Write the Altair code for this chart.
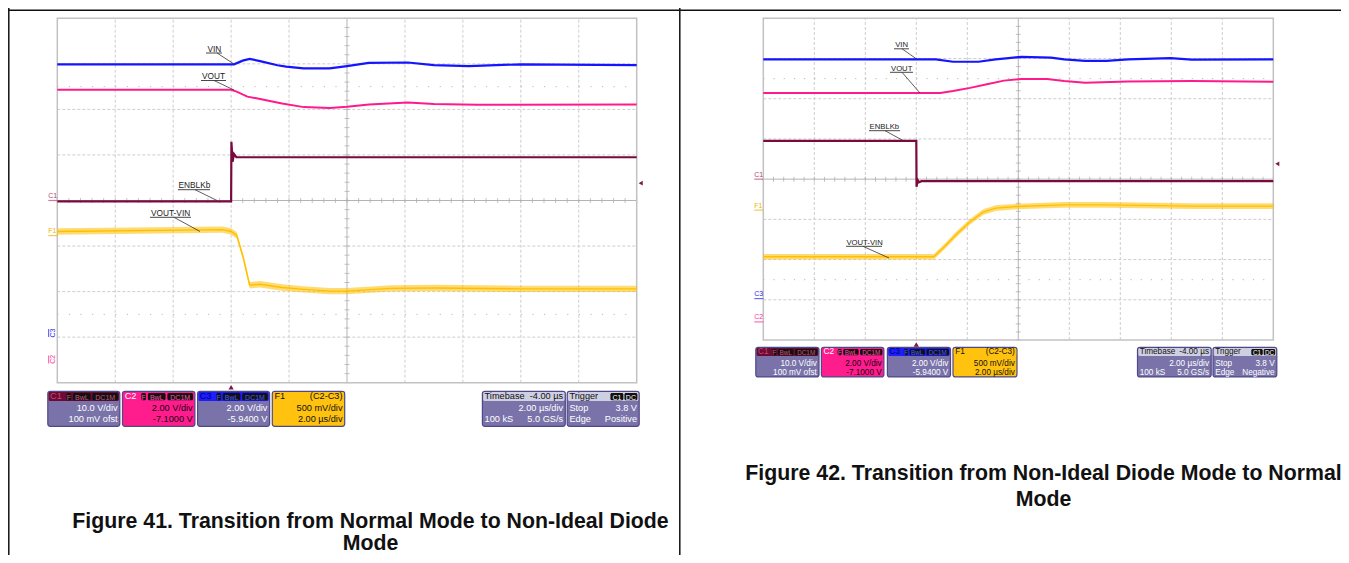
import altair as alt
import pandas as pd

# ---------------- trace data: time in µs (2 µs/div), level in screen divisions ----------------
# Figure 41 (left scope)
L_VIN_T  = [-6, 0.1, 0.4, 0.64, 1.0, 1.6, 1.9, 2.5, 3.4, 4.0, 4.75, 6.1, 7.0, 8.2, 10.0, 14]
L_VIN    = [2.99, 2.99, 3.07, 3.11, 3.06, 2.97, 2.94, 2.90, 2.90, 2.95, 3.02, 3.03, 2.97, 2.95, 2.99, 2.97]
L_VOUT_T = [-6, 0.0, 0.19, 0.56, 1.0, 1.76, 2.51, 3.41, 4.0, 4.76, 6.1, 7.0, 8.5, 14]
L_VOUT   = [2.43, 2.43, 2.39, 2.28, 2.23, 2.13, 2.05, 2.03, 2.06, 2.11, 2.15, 2.12, 2.10, 2.11]
L_EN_T   = [-6, 0.0, 0.01, 0.05, 0.10, 0.18, 14]
L_EN     = [-0.02, -0.02, 1.29, 0.85, 1.02, 0.95, 0.95]
L_DIFF_T = [-6, -0.3, 0.0, 0.19, 0.41, 0.64, 0.79, 1.0, 1.76, 2.51, 3.41, 4.0, 5.5, 7.0, 10.0, 14]
L_DIFF   = [-0.68, -0.64, -0.68, -0.76, -1.23, -1.86, -1.85, -1.84, -1.91, -1.95, -1.99, -1.99, -1.93, -1.92, -1.94, -1.94]

# Figure 42 (right scope)
R_VIN_T  = [-6, 0.77, 1.44, 2.44, 3.11, 3.62, 4.11, 5.28, 5.8, 6.62, 7.46, 8.3, 9.97, 10.8, 14]
R_VIN    = [2.98, 2.98, 2.92, 2.92, 2.98, 3.01, 3.04, 3.02, 2.98, 2.94, 2.94, 2.98, 3.01, 2.97, 2.98]
R_VOUT_T = [-6, 0.94, 1.44, 2.11, 2.77, 3.44, 4.11, 5.13, 5.8, 6.62, 8.3, 10.8, 14]
R_VOUT   = [2.14, 2.14, 2.19, 2.27, 2.36, 2.45, 2.49, 2.49, 2.44, 2.40, 2.43, 2.44, 2.42]
R_EN_T   = [-6, 0.0, 0.01, 0.05, 0.10, 0.20, 14]
R_EN     = [0.95, 0.95, -0.19, -0.02, -0.08, -0.05, -0.05]
R_DIFF_T = [-6, 0.69, 1.1, 1.61, 2.11, 2.62, 3.11, 3.95, 5.8, 7.46, 10.8, 14]
R_DIFF   = [-1.93, -1.93, -1.68, -1.35, -1.06, -0.82, -0.72, -0.68, -0.64, -0.64, -0.67, -0.67]

# channel reference levels (div) and trigger level (div)
CH_NAMES  = ["C1", "F1", "C3", "C2"]
CH_LEVELS = [0.0, -0.77, -2.97, -3.55]
TRIG_LEVEL = 0.38

# trace labels
TRACE_LABELS = ["VIN", "VOUT", "ENBLKb", "VOUT-VIN"]

# info box texts
BOX_KEYS = ["C1", "C2", "C3", "F1", "Timebase", "Trigger"]
BOX_HEAD_RIGHT = ["", "", "", "(C2-C3)", "-4.00 µs", ""]
BOX_BADGES = [["F", "BwL", "DC1M"], ["F", "BwL", "DC1M"], ["F", "BwL", "DC1M"], [], [], ["C1", "DC"]]
BOX_ROW1 = [("", "10.0 V/div"), ("", "2.00 V/div"), ("", "2.00 V/div"), ("", "500 mV/div"), ("", "2.00 µs/div"), ("Stop", "3.8 V")]
BOX_ROW2 = [("", "100 mV ofst"), ("", "-7.1000 V"), ("", "-5.9400 V"), ("", "2.00 µs/div"), ("100 kS", "5.0 GS/s"), ("Edge", None)]
TRIG_EDGE = {"L": "Positive", "R": "Negative"}

CAPTION_L = ["Figure 41. Transition from Normal Mode to Non-Ideal Diode", "Mode"]
CAPTION_R = ["Figure 42. Transition from Non-Ideal Diode Mode to Normal", "Mode"]

# ---------------- layout (page pixels) ----------------
W, H = 1333, 547
OX, OY = 8, 8
SCOPE = {
    "L": dict(x0=57.3, x1=636.7, y0=18.3, y1=382.7),
    "R": dict(x0=763.3, x1=1273.3, y0=18.3, y1=340.0),
}
BOXLAY = {
    "L": dict(xs=[(47.8, 119.8), (122.5, 194.9), (197.6, 269.6), (272.3, 344.7), (482.4, 565.3), (567.2, 639.2)],
              y0=391.3, y1=426.3, hh=9.6, fs=9.2, bfs=7.0, b1=410.6, b2=421.6),
    "R": dict(xs=[(755.8, 819.0), (821.4, 883.9), (887.4, 950.5), (953.0, 1017.0), (1137.5, 1211.2), (1213.0, 1276.8)],
              y0=347.3, y1=376.9, hh=8.6, fs=8.2, bfs=6.3, b1=366.2, b2=375.2),
}
LABLAY = {
    "L": dict(fs=8.3, items=[
        (207.5, 51.5, 206, 222, 53.0, 217, 53.0, 234, 64.0),
        (202.0, 79.0, 201, 226, 80.5, 214, 80.5, 234, 90.0),
        (178.5, 188.3, 178, 210, 189.7, 195, 189.7, 217, 200.5),
        (151.0, 215.8, 150, 191, 217.3, 174, 217.3, 200, 231.5)]),
    "R": dict(fs=7.7, items=[
        (895.2, 47.3, 894, 909, 48.8, 902, 48.8, 917, 59.3),
        (891.0, 70.8, 890, 913, 72.3, 902, 72.3, 920, 93.0),
        (869.6, 129.3, 869, 900, 130.7, 885, 130.7, 904, 141.0),
        (846.4, 244.8, 846, 882, 246.3, 863, 246.3, 889, 258.0)]),
}

LAV, LAV_EDGE = "#7a73aa", "#4f4888"
BOXSTYLE = {
    "C1": dict(head="#6a0c33", body=LAV, htxt="#c7457a", btxt="white", bcol="#c8557f"),
    "C2": dict(head="#ff1d8e", body="#ff1d8e", htxt="white", btxt="#200010", bcol="#ff4fa5"),
    "C3": dict(head="#1d1dff", body=LAV, htxt="#00006a", btxt="white", bcol="#4a5cff"),
    "F1": dict(head="#ffc20f", body="#ffc20f", htxt="#111111", btxt="#111111", bcol="#111111"),
    "Timebase": dict(head="#cfcfe2", body=LAV, htxt="#111111", btxt="white", bcol="white"),
    "Trigger": dict(head="#cfcfe2", body=LAV, htxt="#111111", btxt="white", bcol="white"),
}
BADGE_FRAC = {3: [(0.26, 0.325), (0.35, 0.595), (0.62, 0.975)], 2: [(0.60, 0.78), (0.795, 0.975)]}

COL = dict(VIN="#1414ff", VOUT="#ff1a8c", EN="#7a0a3e", DIFF="#ffbf00")
CH_COL = {"C1": "#b0466e", "F1": "#f2b200", "C3": "#2a2aff", "C2": "#ff3399"}
FONT = "Liberation Sans"


# ---------------- helpers ----------------
def sx():
    return alt.Scale(domain=[OX, OX + W], range=[0, W], nice=False, zero=False)


def sy():
    return alt.Scale(domain=[OY, OY + H], range=[0, H], nice=False, zero=False)


def PX(f):
    return alt.X(f, type="quantitative", scale=sx(), axis=None)


def PY(f):
    return alt.Y(f, type="quantitative", scale=sy(), axis=None)


def prules(rows, color, width, dash=None):
    df = pd.DataFrame(rows, columns=["x", "y", "x2", "y2"])
    kw = dict(color=color, strokeWidth=width)
    if dash:
        kw["strokeDash"] = dash
    return alt.Chart(df).mark_rule(**kw).encode(x=PX("x"), y=PY("y"), x2="x2:Q", y2="y2:Q")


def ptext(rows, **kw):
    df = pd.DataFrame(rows, columns=["txt", "x", "y", "col"])
    return alt.Chart(df).mark_text(font=FONT, **kw).encode(
        x=PX("x"), y=PY("y"), text="txt:N", color=alt.Color("col:N", scale=None))


def prects(rows, **kw):
    df = pd.DataFrame(rows, columns=["x", "y", "x2", "y2", "fill"])
    return alt.Chart(df).mark_rect(**kw).encode(
        x=PX("x"), y=PY("y"), x2="x2:Q", y2="y2:Q", fill=alt.Fill("fill:N", scale=None))


def tsc(s):
    return alt.Scale(domain=[-6, 14], range=[s["x0"] - OX, s["x1"] - OX], nice=False, zero=False)


def vsc(s):
    return alt.Scale(domain=[-4, 4], range=[s["y1"] - OY, s["y0"] - OY], nice=False, zero=False)


def TX(s, f="t"):
    return alt.X(f, type="quantitative", scale=tsc(s), axis=None)


def VY(s, f="v"):
    return alt.Y(f, type="quantitative", scale=vsc(s), axis=None)


def scope_layers(key, traces):
    s = SCOPE[key]
    out = []
    # dashed graticule
    gv = pd.DataFrame({"t": [-4, -2, 0, 2, 6, 8, 10, 12], "lo": -4, "hi": 4})
    out.append(alt.Chart(gv).mark_rule(color="#cdcdcd", strokeWidth=1, strokeDash=[3, 2]).encode(
        x=TX(s), y=VY(s, "lo"), y2="hi:Q"))
    gh = pd.DataFrame({"v": [-3, -2, -1, 1, 2, 3], "lo": -6, "hi": 14})
    out.append(alt.Chart(gh).mark_rule(color="#cdcdcd", strokeWidth=1, strokeDash=[3, 2]).encode(
        y=VY(s), x=TX(s, "lo"), x2="hi:Q"))
    # dotted half-division rows
    step = (s["x1"] - s["x0"]) / 50.0
    gd = pd.DataFrame({"v": [-2.5, 2.5], "lo": -6, "hi": 14})
    out.append(alt.Chart(gd).mark_rule(color="#b9b9b9", strokeWidth=1, strokeDash=[1.2, step - 1.2]).encode(
        y=VY(s), x=TX(s, "lo"), x2="hi:Q"))
    # centre cross
    out.append(alt.Chart(pd.DataFrame({"t": [4], "lo": [-4], "hi": [4]})).mark_rule(
        color="#b4b4b4", strokeWidth=1).encode(x=TX(s), y=VY(s, "lo"), y2="hi:Q"))
    out.append(alt.Chart(pd.DataFrame({"v": [0], "lo": [-6], "hi": [14]})).mark_rule(
        color="#b4b4b4", strokeWidth=1).encode(y=VY(s), x=TX(s, "lo"), x2="hi:Q"))
    tv = pd.DataFrame({"v": [round(-4 + 0.2 * k, 2) for k in range(41)], "t": 4})
    out.append(alt.Chart(tv).mark_tick(orient="horizontal", size=5, thickness=1, color="#a9a9a9").encode(
        x=TX(s), y=VY(s)))
    th = pd.DataFrame({"t": [round(-6 + 0.4 * k, 2) for k in range(51)], "v": 0})
    out.append(alt.Chart(th).mark_tick(orient="vertical", size=5, thickness=1, color="#a9a9a9").encode(
        x=TX(s), y=VY(s)))
    # frame
    out.append(alt.Chart(pd.DataFrame({"a": [-6], "b": [14], "c": [-4], "d": [4]})).mark_rect(
        fillOpacity=0, fill="white", stroke="#c2c2c2", strokeWidth=1.5).encode(
        x=TX(s, "a"), x2="b:Q", y=VY(s, "c"), y2="d:Q"))
    # traces
    for t, v, col, w, band in traces:
        df = pd.DataFrame({"t": t, "v": v})
        base = alt.Chart(df).encode(x=TX(s), y=VY(s))
        if band:
            out.append(alt.Chart(df).transform_calculate(
                lo=f"datum.v - {band}", hi=f"datum.v + {band}").mark_area(
                color=col, opacity=0.55).encode(x=TX(s), y=VY(s, "lo"), y2="hi:Q"))
        out.append(base.mark_line(color=col, strokeWidth=w))
    # trigger time marker and trigger level marker
    out.append(alt.Chart(pd.DataFrame({"t": [0], "v": [-4]})).mark_point(
        shape="triangle-up", filled=True, size=28, color="#7a1a48", opacity=1, yOffset=4.5).encode(
        x=TX(s), y=VY(s)))
    out.append(alt.Chart(pd.DataFrame({"t": [14], "v": [TRIG_LEVEL]})).mark_point(
        shape="triangle-left", filled=True, size=22, color="#7a1a48", opacity=1, xOffset=4).encode(
        x=TX(s), y=VY(s)))
    # channel reference markers
    for name, lev in zip(CH_NAMES, CH_LEVELS):
        d = pd.DataFrame({"t": [-6], "v": [lev], "txt": [name]})
        rot = key == "L" and name in ("C3", "C2")
        if rot:
            out.append(alt.Chart(d).mark_tick(orient="vertical", size=8, thickness=1.2,
                                              color=CH_COL[name], xOffset=-8.7, yOffset=-2.8).encode(
                x=TX(s), y=VY(s)))
            out.append(alt.Chart(d).mark_text(font=FONT, fontSize=7, angle=270, align="center",
                                              baseline="middle", color=CH_COL[name],
                                              xOffset=-4.6, yOffset=-2.8).encode(x=TX(s), y=VY(s), text="txt:N"))
        else:
            out.append(alt.Chart(d).mark_tick(orient="horizontal", size=9, thickness=1.2,
                                              color=CH_COL[name], xOffset=-4.5).encode(x=TX(s), y=VY(s)))
            out.append(alt.Chart(d).mark_text(font=FONT, fontSize=7, align="left", baseline="alphabetic",
                                              color=CH_COL[name], xOffset=-9, yOffset=-2.5).encode(
                x=TX(s), y=VY(s), text="txt:N"))
    return out


def label_layers(key):
    lay = LABLAY[key]
    texts, unders, leads = [], [], []
    for name, it in zip(TRACE_LABELS, lay["items"]):
        tx, ty, ux0, ux1, uy, lx0, ly0, lx1, ly1 = it
        texts.append((name, tx, ty, "#222222"))
        unders.append((ux0, uy, ux1, uy))
        leads.append((lx0, ly0, lx1, ly1))
    return [ptext(texts, fontSize=lay["fs"], align="left", baseline="alphabetic"),
            prules(unders, "#333333", 0.9),
            prules(leads, "#333333", 0.8)]


def box_layers(key):
    lay = BOXLAY[key]
    y0, y1, hh = lay["y0"], lay["y1"], lay["hh"]
    bodies, heads, badges, ltexts, rtexts, btexts = [], [], [], [], [], []
    for i, bk in enumerate(BOX_KEYS):
        st = BOXSTYLE[bk]
        x0, x1 = lay["xs"][i]
        w = x1 - x0
        bodies.append((x0, y0, x1, y1, st["body"]))
        heads.append((x0 + 0.8, y0 + 0.8, x1 - 0.8, y0 + hh, st["head"]))
        hb = y0 + hh - 1.6
        ltexts.append((bk, x0 + 2.2, hb, st["htxt"]))
        if BOX_HEAD_RIGHT[i]:
            rtexts.append((BOX_HEAD_RIGHT[i], x1 - 2.2, hb, st["htxt"]))
        bl = BOX_BADGES[i]
        if bl:
            for lab, (f0, f1) in zip(bl, BADGE_FRAC[len(bl)]):
                bx0, bx1 = x0 + f0 * w, x0 + f1 * w
                badges.append((bx0, y0 + 1.6, bx1, y0 + hh - 0.6, "#111111"))
                btexts.append((lab, (bx0 + bx1) / 2, hb + 0.2, st["bcol"]))
        for (lt, rt), yb in ((BOX_ROW1[i], lay["b1"]), (BOX_ROW2[i], lay["b2"])):
            if rt is None:
                rt = TRIG_EDGE[key]
            if lt:
                ltexts.append((lt, x0 + 2.2, yb, st["btxt"]))
            if rt:
                rtexts.append((rt, x1 - 2.2, yb, st["btxt"]))
    return [
        prects(bodies, cornerRadius=2.5, stroke=LAV_EDGE, strokeWidth=1.2),
        prects(heads, cornerRadius=1.5),
        prects(badges, cornerRadius=1.5),
        ptext(btexts, fontSize=lay["bfs"], align="center", baseline="alphabetic"),
        ptext(ltexts, fontSize=lay["fs"], align="left", baseline="alphabetic"),
        ptext(rtexts, fontSize=lay["fs"], align="right", baseline="alphabetic"),
    ]


layers = []
# table lines
layers.append(prules([(8, 10.3, 1349, 10.3), (8.8, 8, 8.8, 563), (679.8, 8, 679.8, 563)], "#111111", 1.5))

layers += scope_layers("L", [
    (L_EN_T, L_EN, COL["EN"], 2.2, None),
    (L_DIFF_T, L_DIFF, COL["DIFF"], 1.4, 0.07),
    (L_VOUT_T, L_VOUT, COL["VOUT"], 2.0, None),
    (L_VIN_T, L_VIN, COL["VIN"], 2.2, None),
])
layers += scope_layers("R", [
    (R_EN_T, R_EN, COL["EN"], 2.2, None),
    (R_DIFF_T, R_DIFF, COL["DIFF"], 1.4, 0.07),
    (R_VOUT_T, R_VOUT, COL["VOUT"], 2.0, None),
    (R_VIN_T, R_VIN, COL["VIN"], 2.2, None),
])
layers += label_layers("L") + label_layers("R")
layers += box_layers("L") + box_layers("R")

# captions
cap = [(CAPTION_L[0], 370.5, 528, "#111111"), (CAPTION_L[1], 370.5, 550.3, "#111111"),
       (CAPTION_R[0], 1043.5, 480, "#111111"), (CAPTION_R[1], 1043.5, 506, "#111111")]
layers.append(ptext(cap, fontSize=21.3, fontWeight="bold", align="center", baseline="alphabetic"))

chart = alt.layer(*layers).resolve_scale(x="independent", y="independent").properties(
    width=W, height=H, autosize=alt.AutoSizeParams(type="none"), padding=0, background="white"
).configure_view(stroke=None)

chart.save("out.html", embed_options={"renderer": "svg", "actions": False})
